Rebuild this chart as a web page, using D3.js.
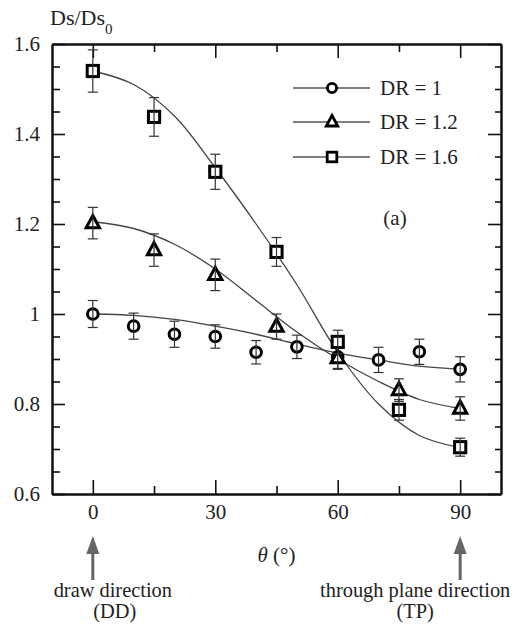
<!DOCTYPE html>
<html>
<head>
<meta charset="utf-8">
<script src="https://cdn.jsdelivr.net/npm/d3@7"></script>
<style>
html,body{margin:0;padding:0;background:#fff;}
svg{display:block;font-family:"Liberation Serif","Times New Roman",serif;}
</style>
</head>
<body>
<svg id="chart" width="514" height="633"></svg>
<script>
// ---- data ----
const thetaDR1 = [0, 10, 20, 30, 40, 50, 60, 70, 80, 90];
const valDR1   = [1.000, 0.973, 0.955, 0.950, 0.915, 0.927, 0.905, 0.898, 0.916, 0.877];
const errDR1   = [0.030, 0.029, 0.029, 0.026, 0.026, 0.026, 0.026, 0.028, 0.028, 0.028];

const thetaDR = [0, 15, 30, 45, 60, 75, 90];
const valDR12 = [1.202, 1.142, 1.087, 0.972, 0.902, 0.831, 0.790];
const errDR12 = [0.035, 0.036, 0.035, 0.028, 0.025, 0.025, 0.026];
const valDR16 = [1.540, 1.438, 1.316, 1.138, 0.938, 0.787, 0.704];
const errDR16 = [0.047, 0.043, 0.039, 0.032, 0.026, 0.023, 0.020];

const fitTheta = [0, 10, 20, 30, 40, 50, 60, 70, 80, 90];
const fitDR1   = [1.000, 0.997, 0.988, 0.973, 0.955, 0.933, 0.913, 0.898, 0.884, 0.877];
const fitDR12  = [1.205, 1.190, 1.155, 1.100, 1.030, 0.960, 0.900, 0.850, 0.810, 0.790];
const fitDR16  = [1.540, 1.510, 1.440, 1.325, 1.200, 1.065, 0.915, 0.800, 0.730, 0.703];

const xMajor = [0, 30, 60, 90];
const xMinor = [15, 45, 75];
const yMajor = [0.6, 0.8, 1.0, 1.2, 1.4, 1.6];
const yLabels = ["0.6", "0.8", "1", "1.2", "1.4", "1.6"];
const yMinor = [0.65, 0.7, 0.75, 0.85, 0.9, 0.95, 1.05, 1.1, 1.15, 1.25, 1.3, 1.35, 1.45, 1.5, 1.55];
const legendLabels = ["DR = 1", "DR = 1.2", "DR = 1.6"];

// ---- layout ----
const L = 52, R = 501, T = 44, B = 494;
const svg = d3.select("#chart");
const x = d3.scaleLinear().domain([-10, 100]).range([L, R]);
const y = d3.scaleLinear().domain([0.6, 1.6]).range([B, T]);
const FONT = "Liberation Serif";

const axisColor = "#111";
function styleAxis(g) {
  g.select(".domain").attr("stroke", axisColor).attr("stroke-width", 2);
  g.selectAll(".tick line").attr("stroke", axisColor).attr("stroke-width", 1.6);
}

// bottom
const gB = svg.append("g").attr("transform", `translate(0,${B})`)
  .call(d3.axisBottom(x).tickValues(xMajor).tickSize(-14).tickSizeOuter(0).tickPadding(10).tickFormat(d3.format("d")));
styleAxis(gB);
gB.selectAll("text").attr("font-size", 21).attr("fill", "#222").attr("font-family", FONT);
const gBm = svg.append("g").attr("transform", `translate(0,${B})`)
  .call(d3.axisBottom(x).tickValues(xMinor).tickSize(-8).tickSizeOuter(0).tickFormat(""));
styleAxis(gBm);
// top
const gT = svg.append("g").attr("transform", `translate(0,${T})`)
  .call(d3.axisTop(x).tickValues(xMajor).tickSize(-14).tickSizeOuter(0).tickFormat(""));
styleAxis(gT);
const gTm = svg.append("g").attr("transform", `translate(0,${T})`)
  .call(d3.axisTop(x).tickValues(xMinor).tickSize(-8).tickSizeOuter(0).tickFormat(""));
styleAxis(gTm);
// left
const gL = svg.append("g").attr("transform", `translate(${L},0)`)
  .call(d3.axisLeft(y).tickValues(yMajor).tickSize(-13).tickSizeOuter(0).tickPadding(12)
    .tickFormat((d, i) => yLabels[i]));
styleAxis(gL);
gL.selectAll("text").attr("font-size", 21).attr("fill", "#222").attr("font-family", FONT);
const gLm = svg.append("g").attr("transform", `translate(${L},0)`)
  .call(d3.axisLeft(y).tickValues(yMinor).tickSize(-8).tickSizeOuter(0).tickFormat(""));
styleAxis(gLm);
// right
const gR = svg.append("g").attr("transform", `translate(${R},0)`)
  .call(d3.axisRight(y).tickValues(yMajor).tickSize(-13).tickSizeOuter(0).tickFormat(""));
styleAxis(gR);
const gRm = svg.append("g").attr("transform", `translate(${R},0)`)
  .call(d3.axisRight(y).tickValues(yMinor).tickSize(-6).tickSizeOuter(0).tickFormat(""));
styleAxis(gRm);

// ---- fit curves ----
const line = d3.line().x(d => x(d[0])).y(d => y(d[1])).curve(d3.curveCatmullRom.alpha(0.5));
[fitDR1, fitDR12, fitDR16].forEach(vals => {
  svg.append("path")
    .attr("d", line(fitTheta.map((t, i) => [t, vals[i]])))
    .attr("fill", "none").attr("stroke", "#444").attr("stroke-width", 1.3);
});

// ---- markers ----
function drawMarker(g, type, cx, cy, size, sw) {
  let el;
  if (type === "circle") {
    el = g.append("circle").attr("cx", cx).attr("cy", cy).attr("r", size * 0.38);
  } else if (type === "triangle") {
    const h = size * 0.88, w = size * 0.95;
    el = g.append("path").attr("d", `M${cx},${cy - h * 0.62}L${cx + w / 2},${cy + h * 0.38}L${cx - w / 2},${cy + h * 0.38}Z`)
      .attr("stroke-linejoin", "miter");
  } else {
    const s = size * 0.8;
    el = g.append("rect").attr("x", cx - s / 2).attr("y", cy - s / 2).attr("width", s).attr("height", s);
  }
  el.attr("fill", "#fff").attr("stroke", "#000").attr("stroke-width", sw);
}

function drawSeries(thetas, vals, errs, type) {
  const g = svg.append("g");
  thetas.forEach((t, i) => drawMarker(g, type, x(t), y(vals[i]), 14, 3));
  const ge = svg.append("g").attr("stroke", "#333").attr("stroke-width", 1.2);
  thetas.forEach((t, i) => {
    const cx = x(t), y1 = y(vals[i] + errs[i]), y2 = y(vals[i] - errs[i]);
    ge.append("line").attr("x1", cx).attr("x2", cx).attr("y1", y1).attr("y2", y2);
    ge.append("line").attr("x1", cx - 5).attr("x2", cx + 5).attr("y1", y1).attr("y2", y1);
    ge.append("line").attr("x1", cx - 5).attr("x2", cx + 5).attr("y1", y2).attr("y2", y2);
  });
}
drawSeries(thetaDR1, valDR1, errDR1, "circle");
drawSeries(thetaDR, valDR12, errDR12, "triangle");
drawSeries(thetaDR, valDR16, errDR16, "square");

// ---- legend ----
const legTypes = ["circle", "triangle", "square"];
const legY = [88, 122, 157];
const leg = svg.append("g");
legendLabels.forEach((lab, i) => {
  leg.append("line").attr("x1", 293).attr("x2", 370).attr("y1", legY[i]).attr("y2", legY[i])
    .attr("stroke", "#555").attr("stroke-width", 1.3);
  drawMarker(leg, legTypes[i], 332, legY[i], 12, 2.8);
  leg.append("text").attr("x", 380).attr("y", legY[i] + 7).attr("font-size", 21).attr("fill", "#222").text(lab);
});
svg.append("text").attr("x", 395).attr("y", 225).attr("text-anchor", "middle")
  .attr("font-size", 21).attr("fill", "#222").text("(a)");

// ---- axis titles ----
const yt = svg.append("text").attr("x", 50).attr("y", 25).attr("font-size", 22).attr("fill", "#222");
yt.append("tspan").text("Ds/Ds");
yt.append("tspan").attr("dy", 9).attr("font-size", 15).text("0");

const xt = svg.append("text").attr("x", (L + R) / 2).attr("y", 562).attr("text-anchor", "middle")
  .attr("font-size", 21).attr("fill", "#222");
xt.append("tspan").attr("font-style", "italic").text("θ");
xt.append("tspan").text(" (°)");

// ---- direction arrows ----
[0, 90].forEach(t => {
  const cx = x(t);
  svg.append("line").attr("x1", cx).attr("x2", cx).attr("y1", 550).attr("y2", 580)
    .attr("stroke", "#666").attr("stroke-width", 3);
  svg.append("path").attr("d", `M${cx},536L${cx + 6.5},554L${cx - 6.5},554Z`).attr("fill", "#666");
});
const ann = [
  {t: 0, dx: 20, lines: ["draw direction", "(DD)"]},
  {t: 90, dx: -45, lines: ["through plane direction", "(TP)"]}
];
ann.forEach(a => {
  a.lines.forEach((s, j) => {
    svg.append("text").attr("x", x(a.t) + a.dx + (j === 1 && a.t === 0 ? 2 : 0)).attr("y", 597 + j * 21)
      .attr("text-anchor", "middle").attr("font-size", 20.4).attr("fill", "#222").text(s);
  });
});
</script>
</body>
</html>
